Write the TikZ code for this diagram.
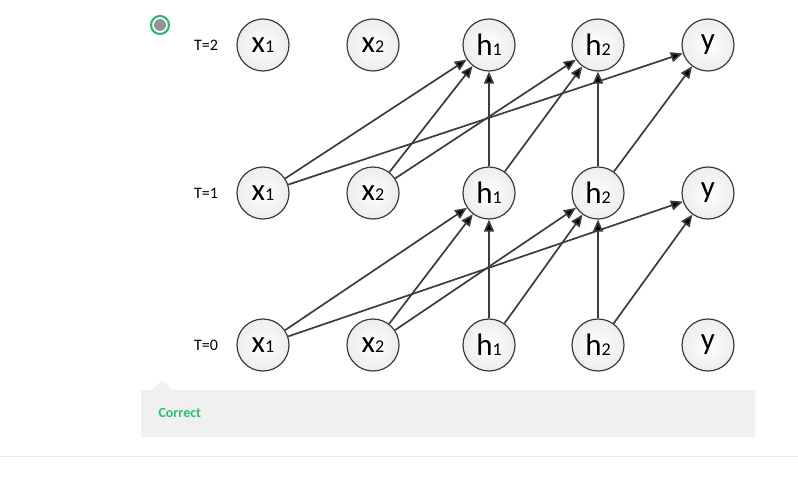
\documentclass[tikz,border=0pt]{standalone}
\usepackage{fontspec}
\setmainfont{Carlito}
\usepackage{tikz}
\usetikzlibrary{arrows.meta}

\definecolor{edgegray}{HTML}{3C3C3C}
\definecolor{okgreen}{HTML}{2DBE6C}
\newcommand{\unitlab}[2]{{\fontsize{31}{31}\selectfont #1}{\fontsize{18}{18}\selectfont #2}}
\newcommand{\unitone}[1]{{\fontsize{31}{31}\selectfont #1}}

\begin{document}
\begin{tikzpicture}
[x=1pt,y=-1pt,
 unit/.style={circle,draw=edgegray,line width=1.2pt,inner color=white,outer color=black!7,inner sep=0pt,minimum size=52pt},
 tlabel/.style={font=\fontsize{16}{16}\selectfont},
 link/.style={draw=edgegray,line width=1.7pt,-{Triangle[length=12pt,width=10pt]}}]
\useasboundingbox (0,0) rectangle (798,489);
% time labels
\node[tlabel] (t2) at (206,45)  {T=2};
\node[tlabel] (t1) at (206,193) {T=1};
\node[tlabel] (t0) at (206,345) {T=0};
% T=2
\node[unit] (xa2) at (263,45) {\unitlab{x}{1}};
\node[unit] (xb2) at (373,45) {\unitlab{x}{2}};
\node[unit] (ha2) at (489,45) {\unitlab{h}{1}};
\node[unit] (hb2) at (598,45) {\unitlab{h}{2}};
\node[unit] (y2)  at (708,45) {\unitone{y}};
% T=1
\node[unit] (xa1) at (263,193) {\unitlab{x}{1}};
\node[unit] (xb1) at (373,193) {\unitlab{x}{2}};
\node[unit] (ha1) at (489,193) {\unitlab{h}{1}};
\node[unit] (hb1) at (598,193) {\unitlab{h}{2}};
\node[unit] (y1)  at (708,193) {\unitone{y}};
% T=0
\node[unit] (xa0) at (263,345) {\unitlab{x}{1}};
\node[unit] (xb0) at (373,345) {\unitlab{x}{2}};
\node[unit] (ha0) at (489,345) {\unitlab{h}{1}};
\node[unit] (hb0) at (598,345) {\unitlab{h}{2}};
\node[unit] (y0)  at (708,345) {\unitone{y}};
% connections
\path[link] (xa0) edge (ha1) edge (y1)
            (xb0) edge (ha1) edge (hb1)
            (ha0) edge (ha1) edge (hb1)
            (hb0) edge (hb1) edge (y1);
\path[link] (xa1) edge (ha2) edge (y2)
            (xb1) edge (ha2) edge (hb2)
            (ha1) edge (ha2) edge (hb2)
            (hb1) edge (hb2) edge (y2);
% answer marker and feedback box
\node[circle,draw=okgreen,line width=2.2pt,fill=white,minimum size=18pt,inner sep=0pt] (mark) at (160,25) {};
\node[circle,fill=black!42,minimum size=12pt,inner sep=0pt] (markdot) at (mark.center) {};
\fill[black!6] (141,390) -- (152,390) -- (162,380) -- (172,390) -- (755,390) -- (755,437) -- (141,437) -- cycle;
\node[anchor=west,text=okgreen,font=\bfseries\fontsize{14}{14}\selectfont] (fb) at (155,413) {Correct};
\draw[black!8] (0,456) -- (798,456);
\end{tikzpicture}
\end{document}
